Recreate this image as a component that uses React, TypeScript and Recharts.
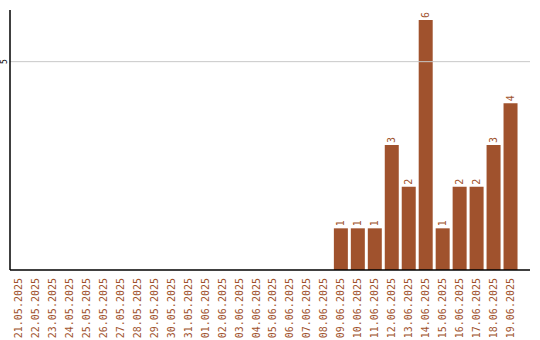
import React from 'react';
import { BarChart, Bar, XAxis, YAxis, ReferenceLine, LabelList } from 'recharts';

const categories = [
  '21.05.2025', '22.05.2025', '23.05.2025', '24.05.2025', '25.05.2025', '26.05.2025',
  '27.05.2025', '28.05.2025', '29.05.2025', '30.05.2025', '31.05.2025', '01.06.2025',
  '02.06.2025', '03.06.2025', '04.06.2025', '05.06.2025', '06.06.2025', '07.06.2025',
  '08.06.2025', '09.06.2025', '10.06.2025', '11.06.2025', '12.06.2025', '13.06.2025',
  '14.06.2025', '15.06.2025', '16.06.2025', '17.06.2025', '18.06.2025', '19.06.2025',
];
const values = [0, 0, 0, 0, 0, 0, 0, 0, 0, 0, 0, 0, 0, 0, 0, 0, 0, 0, 0, 1, 1, 1, 3, 2, 6, 1, 2, 2, 3, 4];
const yTicks = [5];

const data = categories.map((c, i) => ({ name: c, value: values[i] }));

const COLOR = '#A0522D';
const FONT = '"DejaVu Sans Mono", monospace';

const XTick = (props: any) => {
  const { x, y, payload } = props;
  return (
    <text
      x={x}
      y={y}
      transform={`rotate(-90, ${x}, ${y})`}
      textAnchor="end"
      dominantBaseline="central"
      fill={COLOR}
      fontSize={10}
      fontFamily={FONT}
    >
      {payload.value}
    </text>
  );
};

const YTick = (props: any) => {
  const { x, y, payload } = props;
  const tx = x + 3;
  return (
    <text
      x={tx}
      y={y}
      transform={`rotate(-90, ${tx}, ${y})`}
      textAnchor="middle"
      dominantBaseline="central"
      fill="#000"
      fontSize={8}
      fontFamily={FONT}
    >
      {payload.value}
    </text>
  );
};

const BarLabel = (props: any) => {
  const { x, y, width, value } = props;
  if (!value) return null;
  const cx = x + width / 2;
  const cy = y - 2;
  return (
    <text
      x={cx}
      y={cy}
      transform={`rotate(-90, ${cx}, ${cy})`}
      textAnchor="start"
      dominantBaseline="central"
      fill={COLOR}
      fontSize={10}
      fontFamily={FONT}
    >
      {value}
    </text>
  );
};

export default function App() {
  return (
    <div style={{ position: 'absolute', left: 0, top: 0, background: '#fff' }}>
      <BarChart
        width={540}
        height={340}
        data={data}
        margin={{ top: 10, right: 10, bottom: 0, left: 0 }}
        barCategoryGap={1.5}
      >
        <ReferenceLine y={5} stroke="#c8c8c8" />
        <XAxis
          dataKey="name"
          interval={0}
          tickLine={false}
          axisLine={{ stroke: '#000', strokeWidth: 1.5 }}
          tick={<XTick />}
          height={70}
          padding={{ left: 0, right: 11 }}
        />
        <YAxis
          domain={[0, 6.24]}
          ticks={yTicks}
          tickLine={false}
          axisLine={{ stroke: '#000', strokeWidth: 1.5 }}
          tick={<YTick />}
          width={10}
        />
        <Bar dataKey="value" fill={COLOR} isAnimationActive={false}>
          <LabelList dataKey="value" content={<BarLabel />} />
        </Bar>
      </BarChart>
    </div>
  );
}
